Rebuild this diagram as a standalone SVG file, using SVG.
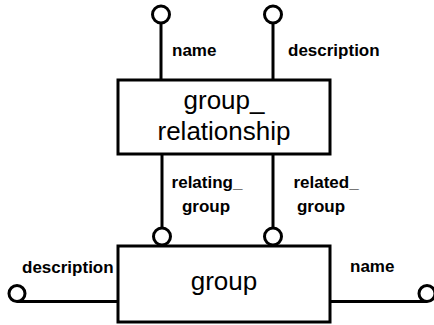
<svg xmlns="http://www.w3.org/2000/svg" width="434" height="325" viewBox="0 0 434 325">
<style>
.box{fill:#fff;stroke:#000;stroke-width:3}
.ln{fill:none;stroke:#000;stroke-width:3}
.c{fill:#fff;stroke:#000;stroke-width:3}
.nm{font-family:"Liberation Sans",Arial,sans-serif;font-size:26px;text-anchor:middle;fill:#000}
.lb{font-family:"Liberation Sans",Arial,sans-serif;font-size:17px;font-weight:bold;fill:#000}
.lbm{font-family:"Liberation Sans",Arial,sans-serif;font-size:17px;font-weight:bold;fill:#000;text-anchor:middle}
</style>
<rect width="434" height="325" fill="#fff"/>
<g id="connectors">
<line class="ln" x1="161" y1="23" x2="161" y2="80"/>
<circle class="c" cx="161" cy="14.5" r="8.5"/>
<text class="lb" x="172" y="56">name</text>
<line class="ln" x1="273" y1="23" x2="273" y2="80"/>
<circle class="c" cx="273" cy="14.5" r="8.5"/>
<text class="lb" x="288" y="56">description</text>
<line class="ln" x1="162" y1="154" x2="162" y2="228"/>
<circle class="c" cx="162" cy="236.5" r="8.5"/>
<text class="lbm" x="207" y="188">relating_</text>
<text class="lbm" x="206" y="212">group</text>
<line class="ln" x1="273" y1="154" x2="273" y2="228"/>
<circle class="c" cx="273" cy="236.5" r="8.5"/>
<text class="lbm" x="326" y="188">related_</text>
<text class="lbm" x="321" y="212">group</text>
<line class="ln" x1="17" y1="301.5" x2="118" y2="301.5"/>
<circle class="c" cx="17" cy="293.5" r="8"/>
<text class="lb" x="22" y="273">description</text>
<line class="ln" x1="330" y1="301.5" x2="427" y2="301.5"/>
<circle class="c" cx="427" cy="293.5" r="8"/>
<text class="lb" x="350" y="272">name</text>
</g>
<g id="group_relationship">
<rect class="box" x="118" y="80" width="212" height="74"/>
<text class="nm" x="224" y="109">group_</text>
<text class="nm" x="224" y="140">relationship</text>
</g>
<g id="group">
<rect class="box" x="118" y="246" width="212" height="76"/>
<text class="nm" x="224" y="290">group</text>
</g>
</svg>
